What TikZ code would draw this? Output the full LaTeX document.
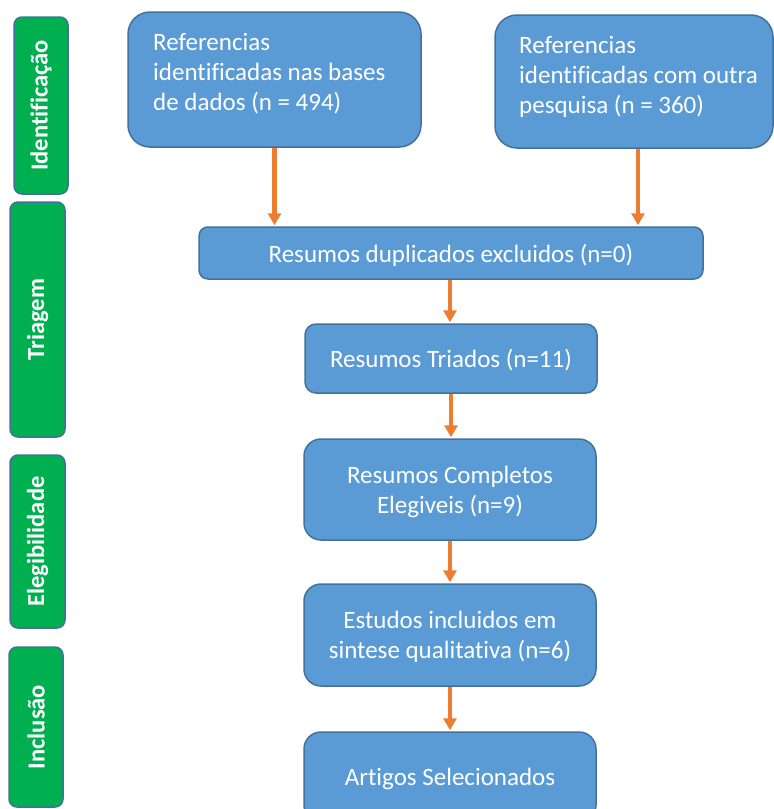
\documentclass[tikz,border=0pt]{standalone}
\usepackage{fontspec}
\setmainfont{Carlito}[Ligatures=NoCommon]
\usetikzlibrary{arrows.meta}
\definecolor{boxblue}{HTML}{5B9BD5}
\definecolor{boxedge}{HTML}{41719C}
\definecolor{phasegreen}{HTML}{00B050}
\definecolor{arrorange}{HTML}{ED7D31}
\tikzset{
  flowbox/.style={rectangle, draw=boxedge, fill=boxblue, line width=1.5pt,
    inner sep=0pt, text=white, font=\fontsize{25}{30}\selectfont, align=center,
    text depth=0pt},
  boxtext/.style={inner sep=0pt, text=white, font=\fontsize{25}{30}\selectfont, align=left},
  phase/.style={rectangle, draw=boxedge, fill=phasegreen, line width=1.5pt,
    rounded corners=8pt, inner sep=0pt},
  phasetext/.style={text=white, font=\bfseries\fontsize{24.5}{30}\selectfont, rotate=90, inner sep=0pt},
  flowarrow/.style={draw=arrorange, line width=4.5pt,
    -{Triangle[width=13pt,length=12pt]}, shorten >=1pt}
}
\begin{document}
\begin{tikzpicture}[x=1pt,y=-1pt]
\useasboundingbox (0,0) rectangle (774,809);

% phase bars on the left
\node[phase, minimum width=54pt, minimum height=177pt] (p1) at (41,105.5) {};
\node[phasetext] (p1t) at (p1.center) {Identificação};
\node[phase, minimum width=55pt, minimum height=235pt] (p2) at (37.5,319.5) {};
\node[phasetext] (p2t) at (p2.center) {Triagem};
\node[phase, minimum width=55pt, minimum height=173pt] (p3) at (37.5,541.5) {};
\node[phasetext] (p3t) at (p3.center) {Elegibilidade};
\node[phase, minimum width=54pt, minimum height=160pt] (p4) at (36,727) {};
\node[phasetext] (p4t) at (p4.center) {Inclusão};

% identification boxes
\node[flowbox, rounded corners=22pt, minimum width=293pt, minimum height=135pt] (a) at (274.5,79.5) {};
\node[boxtext, anchor=north west] (at) at (153,33)
  {Referencias\\identificadas nas bases\\de dados (n = 494)};
\node[flowbox, rounded corners=22pt, minimum width=278pt, minimum height=133pt] (b) at (634,81.5) {};
\node[boxtext, anchor=north west] (bt) at (519,36)
  {Referencias\\identificadas com outra\\pesquisa (n = 360)};

% main flow
\node[flowbox, rounded corners=9pt, minimum width=504pt, minimum height=52pt] (c) at (451,253)
  {Resumos duplicados excluidos (n=0)};
\node[flowbox, rounded corners=11pt, minimum width=292pt, minimum height=69pt] (d) at (451,358.5)
  {Resumos Triados (n=11)};
\node[flowbox, rounded corners=17pt, minimum width=292pt, minimum height=101pt] (e) at (450,489.5)
  {Resumos Completos\\Elegiveis (n=9)};
\node[flowbox, rounded corners=17pt, minimum width=292pt, minimum height=102pt] (f) at (450,635)
  {Estudos incluidos em\\sintese qualitativa (n=6)};
\node[flowbox, rounded corners=17pt, minimum width=292pt, minimum height=90pt] (g) at (450,777)
  {Artigos Selecionados};

% connectors
\draw[flowarrow] (a.south) -- (a.south |- c.north);
\draw[flowarrow] ([xshift=4pt]b.south) -- ([xshift=4pt]b.south |- c.north);
\draw[flowarrow] ([xshift=-1pt]c.south) -- ([xshift=-1pt]c.south |- d.north);
\draw[flowarrow] (d.south) -- (d.south |- e.north);
\draw[flowarrow] (e.south) -- (f.north);
\draw[flowarrow] (f.south) -- (g.north);
\end{tikzpicture}
\end{document}
